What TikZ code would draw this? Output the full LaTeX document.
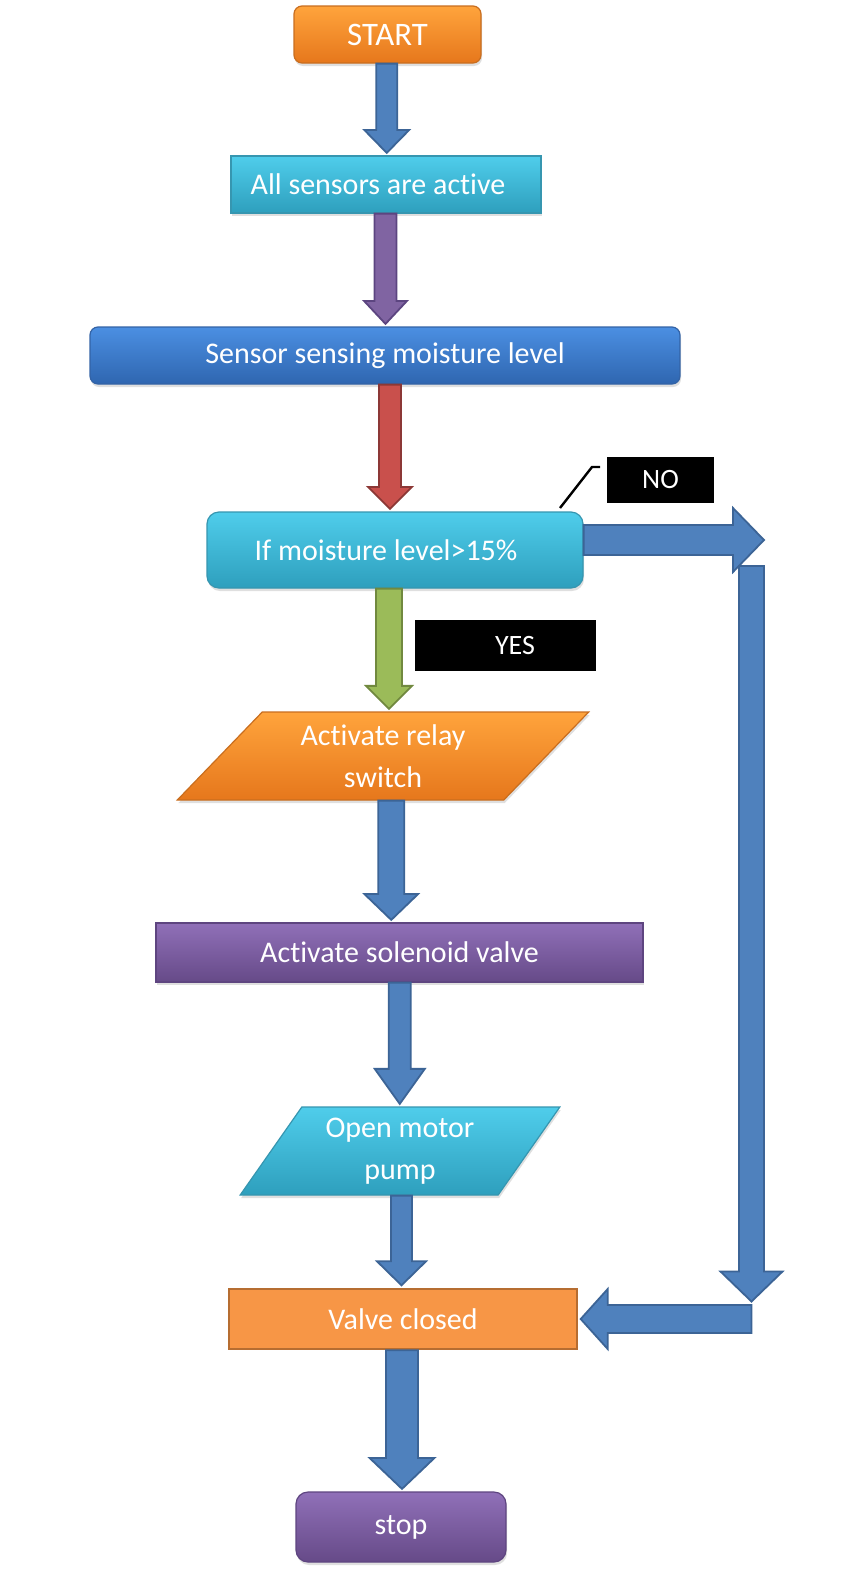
\documentclass[tikz,border=0pt]{standalone}
\usepackage{fontspec}
\setmainfont{Carlito}[Ligatures=NoCommon]
\usetikzlibrary{shapes.geometric,shadows,calc}

\definecolor{orangetop}{HTML}{FFA43C}
\definecolor{orangebot}{HTML}{E6771C}
\definecolor{orangeline}{HTML}{C96E1F}
\definecolor{tealtop}{HTML}{4FCDEB}
\definecolor{tealbot}{HTML}{2E9FBD}
\definecolor{tealline}{HTML}{3696B0}
\definecolor{bluetop}{HTML}{4B8FE2}
\definecolor{bluebot}{HTML}{2F66B0}
\definecolor{blueline}{HTML}{3363A6}
\definecolor{purpletop}{HTML}{9070B8}
\definecolor{purplebot}{HTML}{664A88}
\definecolor{purpleline}{HTML}{5E4580}
\definecolor{valvefill}{HTML}{F79646}
\definecolor{valveline}{HTML}{B66D31}
\definecolor{arrowfill}{HTML}{4F81BD}
\definecolor{arrowline}{HTML}{3C6496}
\definecolor{violetfill}{HTML}{8064A2}
\definecolor{violetline}{HTML}{5C4580}
\definecolor{redfill}{HTML}{C9504C}
\definecolor{redline}{HTML}{8C3836}
\definecolor{greenfill}{HTML}{9BBB59}
\definecolor{greenline}{HTML}{71893F}

\begin{document}
\begin{tikzpicture}[x=0.5pt, y=-0.5pt,
  box/.style={draw, inner sep=0pt, text=white, align=center, line width=0.6pt,
    font=\fontsize{15}{21}\selectfont},
  shadowed/.style={drop shadow={shadow xshift=0.5pt, shadow yshift=-1.5pt, opacity=0.25}},
  orangebox/.style={box, shadowed, top color=orangetop, bottom color=orangebot, draw=orangeline},
  tealbox/.style={box, shadowed, top color=tealtop, bottom color=tealbot, draw=tealline},
  bluebox/.style={box, shadowed, top color=bluetop, bottom color=bluebot, draw=blueline},
  purplebox/.style={box, shadowed, top color=purpletop, bottom color=purplebot, draw=purpleline},
  tag/.style={fill=black, text=white, inner sep=0pt, font=\fontsize{14}{17}\selectfont},
  blockarrow/.style={line width=0.9pt, line join=miter},
  bluearrow/.style={blockarrow, fill=arrowfill, draw=arrowline},
  purplearrow/.style={blockarrow, fill=violetfill, draw=violetline},
  redarrow/.style={blockarrow, fill=redfill, draw=redline},
  greenarrow/.style={blockarrow, fill=greenfill, draw=greenline},
  callout/.style={line width=1.2pt},
  blockdown/.style n args={3}{to path={let \p1=(\tikztostart), \p2=(\tikztotarget), \n1={(\x1+\x2)/2} in
    (\n1-#1,\y1) -- (\n1-#1,\y2+1.25pt+#3) -- (\n1-#2,\y2+1.25pt+#3) -- (\n1,\y2+1.25pt)
    -- (\n1+#2,\y2+1.25pt+#3) -- (\n1+#1,\y2+1.25pt+#3) -- (\n1+#1,\y1) -- cycle}},
  blockright/.style n args={3}{to path={let \p1=(\tikztostart), \p2=(\tikztotarget), \n1={(\y1+\y2)/2} in
    (\x1,\n1+#1) -- (\x2-1.25pt-#3,\n1+#1) -- (\x2-1.25pt-#3,\n1+#2) -- (\x2-1.25pt,\n1)
    -- (\x2-1.25pt-#3,\n1-#2) -- (\x2-1.25pt-#3,\n1-#1) -- (\x1,\n1-#1) -- cycle}},
  blockleft/.style n args={3}{to path={let \p1=(\tikztostart), \p2=(\tikztotarget), \n1={(\y1+\y2)/2} in
    (\x1,\n1+#1) -- (\x2+1.25pt+#3,\n1+#1) -- (\x2+1.25pt+#3,\n1+#2) -- (\x2+1.25pt,\n1)
    -- (\x2+1.25pt+#3,\n1-#2) -- (\x2+1.25pt+#3,\n1-#1) -- (\x1,\n1-#1) -- cycle}}]
\useasboundingbox[fill=white] (0,0) rectangle (852,1579);

% Boxes
\node[orangebox, rounded corners=4pt, minimum width=93.5pt, minimum height=28.5pt,
  font=\fontsize{16.4}{20}\selectfont] (start) at (387.5, 34.5) {START};
\node[tealbox, minimum width=155pt, minimum height=28.5pt] (allsens) at (386, 184.5) {All sensors are active\hspace{8pt}};
\node[bluebox, rounded corners=4pt, minimum width=295pt, minimum height=28.5pt] (sensing) at (385, 355.5) {Sensor sensing moisture level};
\node[tealbox, rounded corners=6pt, minimum width=188pt, minimum height=38pt] (decision) at (395, 550) {If moisture level>15\%\hspace{9pt}};
\node[orangebox, trapezium, trapezium left angle=47.4, trapezium right angle=132.6, trapezium stretches=true,
  minimum width=206pt, minimum height=44pt] (relay) at (383, 756) {Activate relay\\switch};
\node[purplebox, minimum width=243.5pt, minimum height=29.5pt] (solenoid) at (399.5, 952.5) {Activate solenoid valve};
\node[tealbox, trapezium, trapezium left angle=54.8, trapezium right angle=125.2, trapezium stretches=true,
  minimum width=160pt, minimum height=44pt] (pump) at (400, 1151) {Open motor\\pump};
\node[box, fill=valvefill, draw=valveline, line width=1.2pt, minimum width=174pt, minimum height=30pt] (valve) at (403, 1319) {Valve closed};
\node[purplebox, rounded corners=6pt, minimum width=105pt, minimum height=35pt] (stop) at (401, 1527) {stop};

% Labels for the two branches
\node[tag, minimum width=53.5pt, minimum height=23pt] (no) at (660.5, 480) {NO};
\node[tag, minimum width=90.5pt, minimum height=25.5pt] (yes) at (505.5, 645.5) {\hspace*{9.5pt}YES};
\coordinate (callfoot) at (560, 508);
\coordinate (callbend) at (592, 467);
\coordinate (callend) at (600, 467);
\draw[callout] (callfoot) -- (callbend) -- (callend);  % pointer of NO

% Main flow
\draw[bluearrow, blockdown={5.25pt}{11.25pt}{11.5pt}] (start.south) to (allsens.north);  % START -> sensors
\draw[purplearrow, blockdown={5.5pt}{10.75pt}{11.5pt}] (allsens.south) to (sensing.north);  % sensors -> sensing
\draw[redarrow, blockdown={5.5pt}{11pt}{11pt}] (sensing.south) to (decision.north);  % sensing -> test
\draw[greenarrow, blockdown={6.5pt}{11.5pt}{11.5pt}] (decision.south) to (relay.north);  % YES
\draw[bluearrow, blockdown={6.5pt}{13.5pt}{13pt}] (relay.south) to (solenoid.north);  % relay -> solenoid
\draw[bluearrow, blockdown={5.5pt}{12.5pt}{17.5pt}] (solenoid.south) to (pump.north);  % solenoid -> pump
\draw[bluearrow, blockdown={5.25pt}{12.25pt}{12pt}] (pump.south) to (valve.north);  % pump -> valve
\draw[bluearrow, blockdown={8pt}{16.25pt}{15.5pt}] (valve.south) to (stop.north);  % valve -> stop

% NO branch
\coordinate (noend) at (766.5, 540);
\coordinate (turntop) at (751.5, 566);
\coordinate (turnbot) at (751.5, 1304);
\draw[bluearrow, blockright={7.5pt}{16pt}{15.5pt}] (decision.east |- noend) to (noend);  % NO
\draw[bluearrow, blockdown={6.25pt}{15.5pt}{15pt}] (turntop) to (turnbot);  % down the side
\draw[bluearrow, blockleft={7pt}{15pt}{13.5pt}] (turnbot |- valve.east) to (valve.east);  % back to valve

\end{tikzpicture}
\end{document}
